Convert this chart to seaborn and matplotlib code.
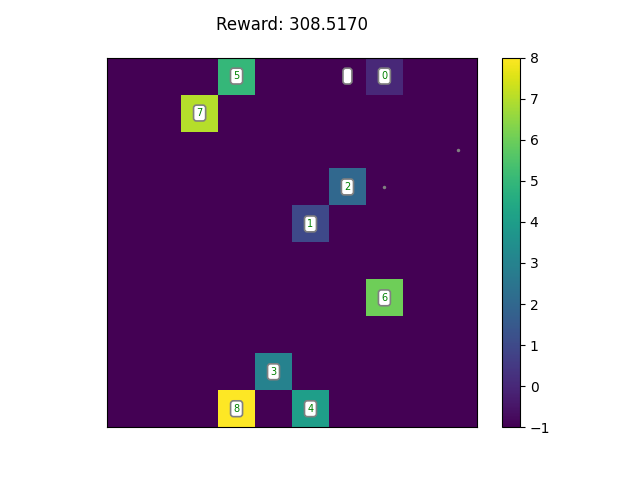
import numpy as np
import pandas as pd
import matplotlib
matplotlib.use("Agg")
import matplotlib.pyplot as plt
import seaborn as sns

title = "Reward: 308.5170"
n_rows, n_cols = 10, 10
background_value = -1

# labelled cells (row, col, value)
cell_rows = [0, 0, 1, 3, 4, 6, 8, 9, 9]
cell_cols = [3, 7, 2, 6, 5, 7, 4, 3, 5]
cell_vals = [5, 0, 7, 2, 1, 6, 3, 8, 4]

# empty label box
empty_rows = [0]
empty_cols = [6]

# small gray dots
dot_rows = [2, 3]
dot_cols = [9, 7]

grid = np.full((n_rows, n_cols), background_value, dtype=float)
for r, c, v in zip(cell_rows, cell_cols, cell_vals):
    grid[r, c] = v
df = pd.DataFrame(grid)

fig, ax = plt.subplots(figsize=(6.4, 4.8), dpi=100)
ax = sns.heatmap(df, ax=ax, cmap="viridis", vmin=-1, vmax=8, square=True,
                 xticklabels=False, yticklabels=False, cbar=True)
for s in ax.spines.values():
    s.set_visible(True)
    s.set_linewidth(0.8)
    s.set_color("black")
cb = ax.collections[0].colorbar
cb.outline.set_linewidth(0.8)
cb.outline.set_edgecolor("black")
cb.set_ticks(list(range(-1, 9)))
cb.ax.tick_params(labelsize=10)

bbox = dict(boxstyle="round,pad=0.3", facecolor="white", edgecolor="gray", linewidth=1.2)
for r, c, v in zip(cell_rows, cell_cols, cell_vals):
    ax.text(c + 0.5, r + 0.5, str(v), ha="center", va="center", fontsize=7,
            color="green", bbox=bbox)
for r, c in zip(empty_rows, empty_cols):
    ax.text(c + 0.5, r + 0.5, " ", ha="center", va="center", fontsize=7,
            color="green", bbox=bbox)
ax.plot(np.array(dot_cols) + 0.5, np.array(dot_rows) + 0.5, "o", color="gray",
        markersize=2.5, markeredgewidth=0)

ax.set_title(title, pad=20, fontsize=12)
fig.savefig("out.png", dpi=100)
